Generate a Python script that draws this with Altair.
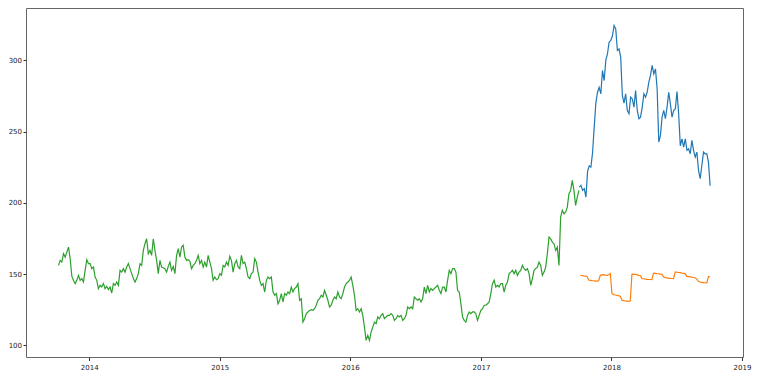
import altair as alt
import pandas as pd

# ---- data ----
train_start, train_end = "2013-10-07", "2017-10-02"
train_close = [
    156.1, 159.6, 158.4, 164.3, 161.9, 165.4, 168.9, 160.8, 148.5, 145.5, 143.3, 145.6, 149.1, 145.6, 146.8, 144.4,
    152.6, 160.1, 157.3, 157.3, 153.8, 154.9, 147.9, 145.6, 139.8, 142.1, 140.9, 143.3, 139.8, 141.4, 139.1, 140.9,
    136.7, 143.3, 142.1, 144.4, 142.1, 152.6, 151.4, 153.8, 151.4, 154.9, 157.3, 153.8, 150.3, 146.8, 144.4, 146.8,
    150.3, 157.3, 156.1, 166.6, 171.3, 174.8, 164.3, 166.6, 163.1, 174.8, 166.6, 159.6, 150.3, 159.6, 154.9, 154.4,
    153.8, 151.4, 155.4, 158.4, 152.6, 155.4, 150.3, 163.1, 167.8, 161.9, 168.9, 170.1, 161.9, 159.6, 160.1, 159.0,
    153.8, 156.1, 157.3, 159.6, 163.1, 157.3, 159.6, 154.9, 158.4, 154.9, 163.1, 158.4, 153.8, 145.6, 147.9, 146.0,
    146.8, 150.3, 149.1, 156.1, 155.0, 158.4, 156.1, 162.4, 159.6, 151.4, 157.3, 159.6, 155.0, 153.8, 163.1, 157.3,
    158.4, 153.8, 147.9, 146.8, 150.3, 151.4, 160.8, 158.4, 151.4, 145.6, 142.1, 143.3, 137.4, 145.6, 147.9, 146.8,
    147.9, 137.4, 135.1, 136.3, 129.2, 131.6, 136.3, 130.4, 136.3, 135.1, 137.4, 136.3, 140.9, 137.4, 139.8, 140.9,
    143.3, 131.6, 132.7, 116.3, 118.7, 122.2, 123.4, 124.5, 125.0, 124.5, 125.7, 128.1, 131.6, 132.7, 135.1, 133.9,
    138.6, 135.1, 131.6, 126.9, 128.1, 131.6, 133.9, 132.7, 137.4, 133.9, 132.7, 136.3, 140.9, 143.3, 144.4, 145.6,
    147.9, 142.1, 135.1, 124.5, 125.7, 123.4, 125.7, 121.0, 112.8, 103.5, 107.0, 103.5, 109.3, 112.8, 116.3, 115.2,
    119.9, 118.7, 121.0, 122.2, 118.7, 119.9, 121.0, 121.0, 122.2, 121.0, 117.5, 118.7, 121.0, 119.9, 121.0, 117.5,
    118.7, 121.0, 126.9, 125.7, 126.9, 125.7, 133.9, 132.7, 131.6, 132.7, 130.4, 132.7, 140.9, 136.3, 142.1, 137.4,
    139.8, 138.6, 139.8, 140.9, 142.1, 138.6, 136.3, 140.9, 140.9, 137.4, 145.6, 152.6, 150.3, 153.8, 153.8, 151.4,
    138.6, 137.4, 129.2, 119.9, 117.5, 116.3, 121.0, 123.4, 122.2, 123.4, 123.4, 122.2, 117.5, 121.0, 124.5, 125.7,
    128.1, 128.1, 129.2, 130.4, 136.3, 143.3, 145.6, 140.9, 142.1, 140.9, 143.3, 143.3, 137.4, 142.1, 144.4, 150.3,
    151.4, 152.6, 150.3, 152.6, 149.1, 151.4,
    152.6, 156.1, 153.8, 152.6, 153.8, 150.3, 142.1, 146.8, 152.6, 153.8, 154.9, 158.4, 156.1, 149.1, 151.4, 154.9,
    164.3, 175.9, 174.7, 172.4, 171.3, 166.6, 168.9, 156.1, 190.0, 194.7, 192.3, 193.5, 197.0, 206.4, 208.7, 215.7,
    208.7, 198.2, 204.0, 208.7,
]

valid_start, valid_end = "2017-10-03", "2018-10-04"
valid_close = [
    211.0, 212.2, 208.7, 209.9, 204.0, 222.0, 226.0, 225.0, 235.0, 253.1, 270.0, 277.6, 281.0, 276.5, 292.9, 285.8,
    299.9, 304.5, 312.7, 314.0, 317.0, 324.4, 322.0, 306.9, 308.0, 302.2, 275.3, 270.0, 276.5, 264.8, 262.5, 274.1,
    272.9, 267.1, 278.8, 264.8, 259.0, 260.1, 267.1, 276.5, 274.1, 277.6, 284.7, 289.4, 296.4, 290.5, 294.0, 280.0,
    242.6, 247.3, 260.1, 264.8, 259.0, 267.1, 277.6, 269.4, 260.1, 264.8, 266.0, 278.0, 262.5, 240.0, 244.9, 239.1,
    244.9, 236.8, 237.9, 234.4, 243.8, 236.8, 232.1, 235.6, 222.7, 216.9, 226.2, 235.6, 234.4, 234.4, 228.5, 212.0,
]

pred_start, pred_end = "2017-10-06", "2018-10-04"
predictions = [
    149.1, 149.0, 148.7, 148.6, 148.3, 145.8, 145.6, 145.4, 145.3, 145.0, 145.1, 145.3, 149.1, 149.4, 149.6, 149.3,
    149.1, 149.5, 150.3, 136.2, 135.6, 135.3, 135.1, 134.8, 134.4, 131.6, 131.4, 131.1, 131.0, 130.9, 131.1, 149.8,
    150.0, 149.8, 149.6, 149.1, 149.0, 146.8, 146.7, 146.5, 146.3, 146.2, 146.2, 146.1, 150.7, 150.5, 150.3, 150.2,
    150.0, 149.8, 148.0, 147.5, 147.3, 147.1, 147.0, 146.9, 146.8, 151.4, 151.3, 151.1, 151.0, 150.7, 150.5, 150.3,
    148.4, 148.2, 148.0, 147.8, 147.6, 147.4, 146.5, 144.9, 144.4, 144.1, 144.0, 143.9, 143.8, 148.3, 147.9,
]

x_domain = ["2013-07-08", "2019-01-04"]
y_domain = [91.8, 336.7]
y_ticks = [100, 150, 200, 250, 300]
x_ticks = ["2014-01-01", "2015-01-01", "2016-01-01", "2017-01-01", "2018-01-01", "2019-01-01"]


def frame(start, end, values, name):
    return pd.DataFrame({
        "date": pd.date_range(start, end, periods=len(values)),
        "value": values,
        "series": name,
    })


df = pd.concat([
    frame(train_start, train_end, train_close, "Train"),
    frame(valid_start, valid_end, valid_close, "Close"),
    frame(pred_start, pred_end, predictions, "Predictions"),
])

x_enc = alt.X(
    "date:T",
    title=None,
    scale=alt.Scale(domain=x_domain),
    axis=alt.Axis(
        values=[pd.Timestamp(t).isoformat() for t in x_ticks],
        format="%Y",
        grid=False,
        domain=False,
        tickSize=3.5,
        tickColor="#333333",
        labelFontSize=7,
        labelColor="#222222",
        labelPadding=3,
    ),
)
y_enc = alt.Y(
    "value:Q",
    title=None,
    scale=alt.Scale(domain=y_domain, nice=False, zero=False),
    axis=alt.Axis(
        values=y_ticks,
        grid=False,
        domain=False,
        tickSize=3,
        tickColor="#333333",
        labelFontSize=7,
        labelColor="#222222",
        labelPadding=1.5,
    ),
)

chart = (
    alt.Chart(df)
    .mark_line(strokeWidth=1.2, clip=True)
    .encode(
        x=x_enc,
        y=y_enc,
        color=alt.Color(
            "series:N",
            scale=alt.Scale(
                domain=["Close", "Predictions", "Train"],
                range=["#1f77b4", "#ff7f0e", "#2ca02c"],
            ),
            legend=None,
        ),
        detail="series:N",
    )
    .properties(
        width=717,
        height=349,
        autosize=alt.AutoSizeParams(type="none"),
        padding={"left": 18, "top": 0, "right": 10, "bottom": 19},
    )
    .configure_view(stroke="#666666", strokeWidth=1)
    .configure_axis(labelFont="DejaVu Sans")
)

chart.save("out.html", embed_options={"renderer": "svg", "actions": False})
